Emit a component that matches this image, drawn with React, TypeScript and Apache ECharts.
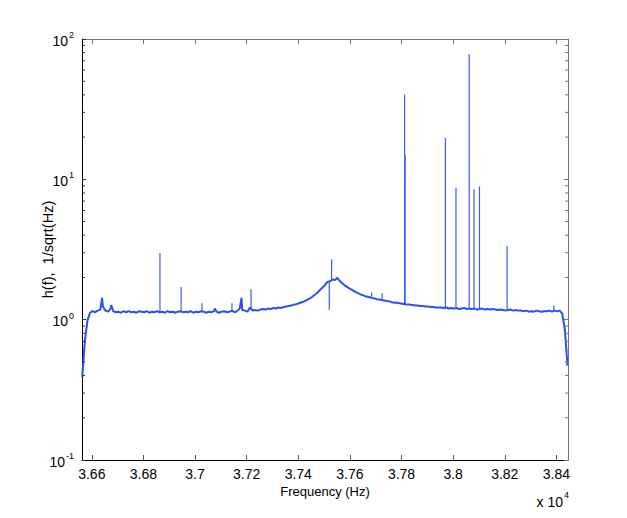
import React, { useEffect, useRef } from 'react';
import * as echarts from 'echarts';

const X_MIN = 36562;
const X_MAX = 38445;
const Y_MIN = 0.1;
const Y_MAX = 100;

const xTickValues = [36600, 36800, 37000, 37200, 37400, 37600, 37800, 38000, 38200, 38400];
const yMinorTicks = [
  0.2, 0.3, 0.4, 0.5, 0.6, 0.7, 0.8, 0.9,
  2, 3, 4, 5, 6, 7, 8, 9,
  20, 30, 40, 50, 60, 70, 80, 90,
];

// baseline spectrum, sampled every 10 Hz from 36563 Hz
const baseStart = 36563;
const baseStep = 10;
const baseline = [
  0.39, 0.70, 0.98, 1.12, 1.15, 1.13, 1.16, 1.18, 1.24, 1.16,
  1.14, 1.20, 1.15, 1.13, 1.14, 1.12, 1.15, 1.13, 1.15, 1.13,
  1.14, 1.12, 1.15, 1.14, 1.13, 1.15, 1.12, 1.14, 1.13, 1.15,
  1.13, 1.14, 1.12, 1.15, 1.13, 1.14, 1.12, 1.14, 1.15, 1.13,
  1.14, 1.13, 1.15, 1.12, 1.14, 1.13, 1.15, 1.14, 1.12, 1.14,
  1.13, 1.15, 1.14, 1.12, 1.14, 1.15, 1.13, 1.14, 1.16, 1.13,
  1.15, 1.20, 1.17, 1.16, 1.14, 1.22, 1.16, 1.17, 1.16, 1.18,
  1.19, 1.18, 1.20, 1.19, 1.21, 1.20, 1.22, 1.21, 1.23, 1.24,
  1.25, 1.26, 1.28, 1.29, 1.31, 1.33, 1.35, 1.38, 1.41, 1.45,
  1.50, 1.55, 1.62, 1.69, 1.76, 1.86, 1.88, 1.93, 1.92, 1.96,
  1.87, 1.80, 1.74, 1.69, 1.65, 1.61, 1.57, 1.54, 1.51, 1.49,
  1.46, 1.45, 1.43, 1.42, 1.40, 1.39, 1.38, 1.37, 1.36, 1.35,
  1.33, 1.32, 1.32, 1.31, 1.30, 1.29, 1.28, 1.28, 1.27, 1.26,
  1.26, 1.25, 1.25, 1.24, 1.24, 1.23, 1.23, 1.22, 1.22, 1.22,
  1.21, 1.22, 1.20, 1.21, 1.20, 1.21, 1.19, 1.20, 1.21, 1.19,
  1.20, 1.19, 1.20, 1.18, 1.19, 1.20, 1.18, 1.19, 1.18, 1.19,
  1.18, 1.17, 1.18, 1.17, 1.16, 1.17, 1.18, 1.16, 1.17, 1.16,
  1.16, 1.15, 1.16, 1.14, 1.15, 1.14, 1.16, 1.15, 1.14, 1.15,
  1.15, 1.16, 1.14, 1.16, 1.15, 1.16, 1.10, 0.85, 0.47,
];

// broad bumps that belong to the noise floor: [frequency Hz, amplitude]
const bumps: [number, number][] = [
  [36640, 1.43],
  [36675, 1.27],
  [37077, 1.20],
  [37180, 1.43],
  [37551, 1.99],
];

// narrow spectral lines: [frequency Hz, floor level, peak (or dip) amplitude]
const lines: [number, number, number][] = [
  [36864, 1.13, 2.99],
  [36946, 1.14, 1.71],
  [37027, 1.14, 1.31],
  [37143, 1.15, 1.31],
  [37217, 1.17, 1.65],
  [37520, 1.88, 1.17],
  [37529, 1.88, 2.70],
  [37684, 1.43, 1.56],
  [37725, 1.38, 1.54],
  [37812, 1.29, 40.0],
  [37814, 1.29, 15.0],
  [37970, 1.22, 19.8],
  [38011, 1.21, 8.7],
  [38062, 1.20, 78.0],
  [38081, 1.20, 8.5],
  [38102, 1.19, 8.9],
  [38209, 1.17, 3.35],
  [38390, 1.15, 1.26],
];

const LINE_COLOR = '#2d4ef2';
const SPIKE_COLOR = '#3b5cf4';
const NARROW = '"Liberation Sans Narrow", "Arial Narrow", "Liberation Sans", Arial, sans-serif';
const SANS = '"Liberation Sans", Arial, Helvetica, sans-serif';

export default function App() {
  const ref = useRef<HTMLDivElement>(null);

  useEffect(() => {
    if (!ref.current) return;
    const chart = echarts.init(ref.current, null, { renderer: 'svg' });

    const floorData: [number, number][] = baseline
      .map((v, i) => [baseStart + i * baseStep, v] as [number, number])
      .concat(bumps)
      .sort((a, b) => a[0] - b[0]);

    const lineData: any[] = [];
    lines.forEach(([f, b, p]) => {
      lineData.push([f, b], [f, p], [f, null]);
    });

    const minorData = yMinorTicks.map((v) => [X_MIN, v]);

    const supLabel = (v: number) => {
      const e = Math.round(Math.log10(v));
      return `{b|10}{s|${e}}`;
    };

    const labelRich = {
      b: { fontSize: 14, fontFamily: NARROW, color: '#000', lineHeight: 17, verticalAlign: 'bottom' },
      s: { fontSize: 9, fontFamily: NARROW, color: '#000', lineHeight: 10, verticalAlign: 'top', padding: [0, 0, 0, 1] },
    };

    chart.setOption({
      animation: false,
      backgroundColor: '#fff',
      grid: { left: 82, top: 39, width: 486, height: 421, containLabel: false },
      xAxis: [
        {
          type: 'value',
          min: X_MIN,
          max: X_MAX,
          position: 'bottom',
          name: 'Frequency (Hz)',
          nameLocation: 'middle',
          nameGap: 25,
          nameMoveOverlap: false,
          nameTextStyle: { fontFamily: SANS, fontSize: 13, color: '#000' },
          axisLine: { show: true, onZero: false, lineStyle: { color: '#000', width: 1 } },
          axisTick: { show: true, inside: true, length: 5, customValues: xTickValues, lineStyle: { color: '#555' } },
          axisLabel: {
            show: true,
            customValues: xTickValues,
            margin: 7,
            fontFamily: NARROW,
            fontSize: 14,
            color: '#000',
            formatter: (v: number) => String(parseFloat((v / 10000).toFixed(2))),
          },
          splitLine: { show: false },
        },
        {
          type: 'value',
          min: X_MIN,
          max: X_MAX,
          position: 'top',
          axisLine: { show: true, onZero: false, lineStyle: { color: '#777', width: 1 } },
          axisTick: { show: true, inside: true, length: 5, customValues: xTickValues, lineStyle: { color: '#777' } },
          axisLabel: { show: false },
          splitLine: { show: false },
        },
      ],
      yAxis: [
        {
          type: 'log',
          logBase: 10,
          min: Y_MIN,
          max: Y_MAX,
          position: 'left',
          name: 'h(f),  1/sqrt(Hz)',
          nameLocation: 'middle',
          nameGap: 27,
          nameMoveOverlap: false,
          nameTextStyle: { fontFamily: SANS, fontSize: 14.5, color: '#000' },
          axisLine: { show: true, onZero: false, lineStyle: { color: '#000', width: 1 } },
          axisTick: { show: true, inside: true, length: 4, lineStyle: { color: '#333' } },
          axisLabel: {
            show: true,
            margin: 8,
            formatter: supLabel,
            rich: labelRich,
          },
          splitLine: { show: false },
        },
        {
          type: 'log',
          logBase: 10,
          min: Y_MIN,
          max: Y_MAX,
          position: 'right',
          axisLine: { show: true, onZero: false, lineStyle: { color: '#777', width: 1 } },
          axisTick: { show: true, inside: true, length: 4, lineStyle: { color: '#777' } },
          axisLabel: { show: false },
          splitLine: { show: false },
        },
      ],
      graphic: [
        {
          type: 'text',
          x: 569,
          y: 490,
          style: {
            text: '{a|x 10}{s|4}',
            align: 'right',
            rich: {
              a: { fontSize: 14, fontFamily: NARROW, fill: '#000', lineHeight: 19, verticalAlign: 'bottom' },
              s: { fontSize: 9, fontFamily: NARROW, fill: '#000', lineHeight: 10, verticalAlign: 'top', padding: [0, 0, 0, 1] },
            },
          },
        },
      ],
      series: [
        {
          type: 'line',
          xAxisIndex: 0,
          yAxisIndex: 0,
          data: floorData,
          showSymbol: false,
          symbol: 'none',
          lineStyle: { color: LINE_COLOR, width: 2 },
          z: 2,
        },
        {
          type: 'line',
          xAxisIndex: 0,
          yAxisIndex: 0,
          data: lineData,
          showSymbol: false,
          symbol: 'none',
          connectNulls: false,
          lineStyle: { color: SPIKE_COLOR, width: 1.2 },
          z: 2,
        },
        {
          type: 'custom',
          xAxisIndex: 0,
          yAxisIndex: 0,
          data: minorData,
          clip: false,
          silent: true,
          z: 3,
          renderItem: (params: any, api: any) => {
            const v = api.value(1);
            const l = api.coord([X_MIN, v]);
            const r = api.coord([X_MAX, v]);
            return {
              type: 'group',
              children: [
                { type: 'line', shape: { x1: l[0], y1: l[1], x2: l[0] + 3, y2: l[1] }, style: { stroke: '#333', lineWidth: 1 } },
                { type: 'line', shape: { x1: r[0], y1: r[1], x2: r[0] - 3, y2: r[1] }, style: { stroke: '#777', lineWidth: 1 } },
              ],
            };
          },
        },
      ],
    });

    return () => chart.dispose();
  }, []);

  return (
    <div
      ref={ref}
      style={{ position: 'fixed', left: 0, top: 0, width: 627, height: 518, background: '#fff' }}
    />
  );
}
